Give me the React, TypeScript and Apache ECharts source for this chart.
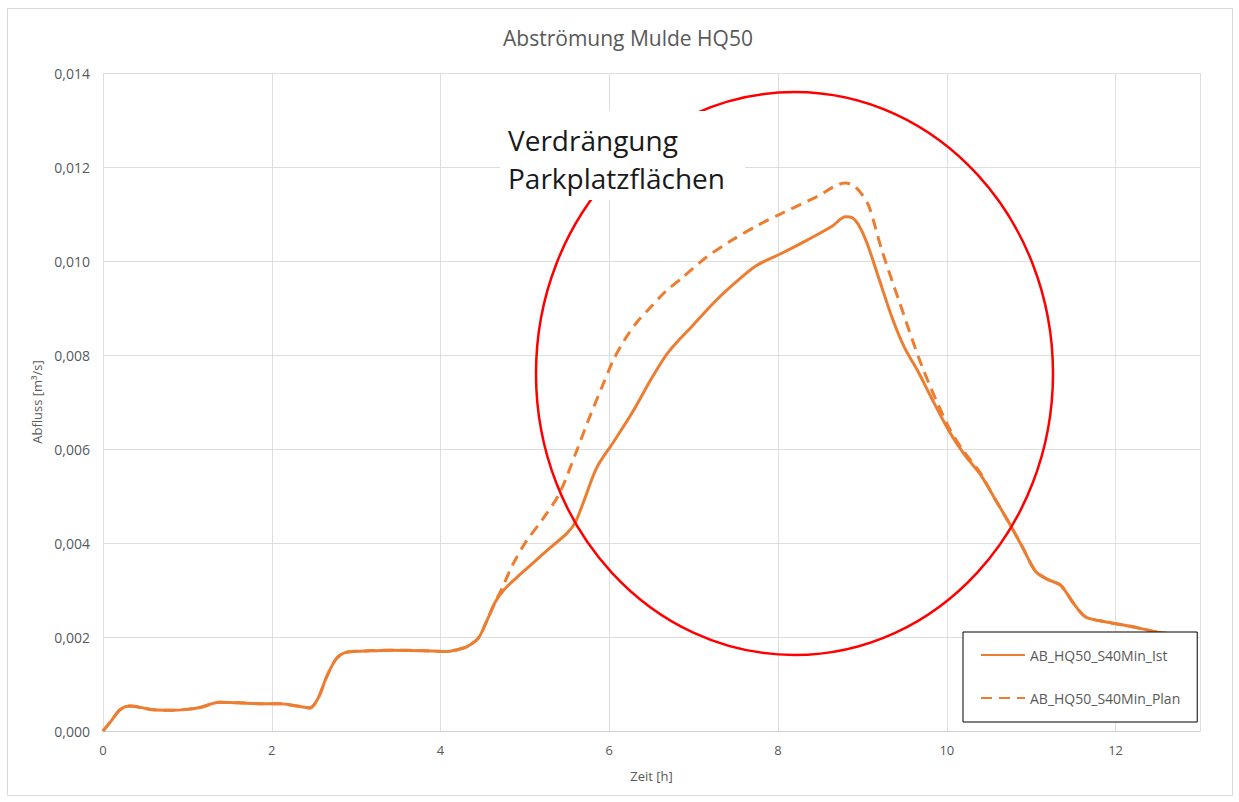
import React, { useEffect, useRef } from "react";
import * as echarts from "echarts";

// Abfluss der Mulde bei HQ50 – Zeit [h] / Abfluss [m³/s]
const istHours = [
  0.0, 0.1, 0.2, 0.32, 0.45, 0.6, 0.8, 1.0, 1.15, 1.38, 1.6, 1.9, 2.1, 2.3, 2.45,
  2.55, 2.65, 2.77, 2.9, 3.1, 3.4, 3.8, 4.05, 4.2, 4.32, 4.45, 4.55, 4.65, 4.75,
  4.9, 5.1, 5.3, 5.5, 5.6, 5.7, 5.85, 6.05, 6.27, 6.5, 6.7, 7.0, 7.27, 7.5, 7.74,
  8.05, 8.35, 8.64, 8.8, 8.88, 8.95, 9.05, 9.2, 9.35, 9.5, 9.65, 9.8, 10.02, 10.2,
  10.4, 10.55, 10.73, 10.9, 11.05, 11.2, 11.35, 11.5, 11.64, 11.8, 11.95, 12.2,
  12.45, 12.7, 12.95,
];
const istFlow = [
  0.0, 0.00022, 0.00045, 0.00053, 0.0005, 0.00045, 0.00044, 0.00046, 0.0005,
  0.00061, 0.0006, 0.00058, 0.00058, 0.00053, 0.00049, 0.0007, 0.00115, 0.00155,
  0.00168, 0.0017, 0.00172, 0.00171, 0.00169, 0.00173, 0.0018, 0.00198, 0.00235,
  0.00275, 0.003, 0.00326, 0.00358, 0.0039, 0.00421, 0.00445, 0.0049, 0.0056,
  0.00615, 0.00677, 0.0075, 0.00806, 0.00865, 0.00917, 0.00955, 0.0099, 0.01017,
  0.01045, 0.01074, 0.01094, 0.01092, 0.01078, 0.0104, 0.0096, 0.0088, 0.00815,
  0.00768, 0.00715, 0.0064, 0.0059, 0.00545, 0.005, 0.00445, 0.0039, 0.0034,
  0.00322, 0.0031, 0.00272, 0.00243, 0.00235, 0.0023, 0.00222, 0.00212, 0.00205,
  0.00198,
];

const planHours = [
  0.0, 0.1, 0.2, 0.32, 0.45, 0.6, 0.8, 1.0, 1.15, 1.38, 1.6, 1.9, 2.1, 2.3, 2.45,
  2.55, 2.65, 2.77, 2.9, 3.1, 3.4, 3.8, 4.05, 4.2, 4.32, 4.45, 4.55, 4.65, 4.72,
  4.85, 5.02, 5.2, 5.41, 5.6, 5.76, 5.92, 6.05, 6.18, 6.32, 6.47, 6.66, 6.86,
  7.15, 7.46, 7.75, 8.05, 8.45, 8.8, 8.9, 9.0, 9.08, 9.23, 9.43, 9.71, 10.02,
  10.2, 10.4, 10.55, 10.73, 10.9, 11.05, 11.2, 11.35, 11.5, 11.64, 11.8, 11.95,
  12.2, 12.45, 12.7, 12.95,
];
const planFlow = [
  0.0, 0.00022, 0.00045, 0.00053, 0.0005, 0.00045, 0.00044, 0.00046, 0.0005,
  0.00061, 0.0006, 0.00058, 0.00058, 0.00053, 0.00049, 0.0007, 0.00115, 0.00155,
  0.00168, 0.0017, 0.00172, 0.00171, 0.00169, 0.00173, 0.0018, 0.00198, 0.00235,
  0.00275, 0.003, 0.00352, 0.00405, 0.00448, 0.00506, 0.0059, 0.00665, 0.00735,
  0.0079, 0.00832, 0.00868, 0.00898, 0.00934, 0.00964, 0.01008, 0.01045, 0.01075,
  0.01102, 0.01136, 0.01166, 0.0116, 0.0114, 0.01115, 0.01023, 0.00917, 0.00774,
  0.00647, 0.00595, 0.00548, 0.005, 0.00445, 0.0039, 0.0034, 0.00322, 0.0031,
  0.00272, 0.00243, 0.00235, 0.0023, 0.00222, 0.00212, 0.00205, 0.00198,
];

const seriesNames = ["AB_HQ50_S40Min_Ist", "AB_HQ50_S40Min_Plan"];
const chartTitle = "Abströmung Mulde HQ50";
const noteLines = ["Verdrängung", "Parkplatzflächen"];

const FONT = "'Open Sans', 'Noto Sans', sans-serif";
const ORANGE = "#ED7D31";
const GREY_TEXT = "#595959";
const GRID_LINE = "#dedede";

export default function App() {
  const ref = useRef<HTMLDivElement>(null);

  useEffect(() => {
    document.body.style.margin = "0";
    if (!ref.current) return;
    const chart = echarts.init(ref.current, undefined, { renderer: "svg" });

    const ist = istHours.map((h, i) => [h, istFlow[i]]);
    const plan = planHours.map((h, i) => [h, planFlow[i]]);

    chart.setOption({
      animation: false,
      backgroundColor: "#ffffff",
      textStyle: { fontFamily: FONT },
      grid: { left: 103, right: 39, top: 73, bottom: 71, containLabel: false },
      xAxis: {
        type: "value",
        min: 0,
        max: 13,
        interval: 2,
        name: "Zeit [h]",
        nameLocation: "middle",
        nameGap: 38,
        nameTextStyle: { color: GREY_TEXT, fontSize: 13, fontFamily: FONT },
        axisLine: { show: true, lineStyle: { color: "#d0d0d0", width: 1 } },
        axisTick: { show: false },
        axisLabel: {
          color: GREY_TEXT,
          fontSize: 13,
          fontFamily: FONT,
          margin: 12,
          showMaxLabel: false,
          formatter: (v: number) => (v % 2 === 0 ? String(v) : ""),
        },
        splitLine: { show: true, lineStyle: { color: GRID_LINE, width: 1 } },
      },
      yAxis: {
        type: "value",
        min: 0,
        max: 0.014,
        interval: 0.002,
        name: "Abfluss [m³/s]",
        nameLocation: "middle",
        nameGap: 57,
        nameTextStyle: { color: GREY_TEXT, fontSize: 13, fontFamily: FONT },
        axisLine: { show: false },
        axisTick: { show: false },
        axisLabel: {
          color: GREY_TEXT,
          fontSize: 14,
          fontFamily: FONT,
          margin: 13,
          formatter: (v: number) => v.toFixed(3).replace(".", ","),
        },
        splitLine: { show: true, lineStyle: { color: GRID_LINE, width: 1 } },
      },
      legend: {
        left: 963,
        top: 632,
        orient: "vertical",
        z: 20,
        padding: [16, 17, 17, 17],
        itemGap: 29,
        itemWidth: 44,
        itemHeight: 14,
        itemStyle: { opacity: 0 },
        backgroundColor: "#ffffff",
        borderColor: "#000000",
        borderWidth: 1,
        textStyle: { color: GREY_TEXT, fontSize: 14, fontFamily: FONT, lineHeight: 14 },
        data: seriesNames,
      },
      series: [
        {
          name: seriesNames[0],
          type: "line",
          data: ist,
          smooth: 0.3,
          symbol: "none",
          lineStyle: { color: ORANGE, width: 3 },
          itemStyle: { color: ORANGE },
        },
        {
          name: seriesNames[1],
          type: "line",
          data: plan,
          smooth: 0.3,
          symbol: "none",
          lineStyle: { color: ORANGE, width: 3, type: [11, 7] },
          itemStyle: { color: ORANGE },
        },
      ],
      graphic: [
        {
          type: "rect",
          silent: true,
          z: 0,
          shape: { x: 7.5, y: 8.5, width: 1225, height: 787 },
          style: { fill: "none", stroke: "#d9d9d9", lineWidth: 1 },
        },
        {
          type: "text",
          silent: true,
          x: 628,
          y: 38,
          style: {
            text: chartTitle,
            fontSize: 21,
            fontFamily: FONT,
            fill: GREY_TEXT,
            align: "center",
            verticalAlign: "middle",
          },
        },
        {
          type: "ellipse",
          silent: true,
          z: 10,
          shape: { cx: 794.5, cy: 373.5, rx: 258.5, ry: 281.5 },
          style: { fill: "none", stroke: "#ff0000", lineWidth: 2.5 },
        },
        {
          type: "rect",
          silent: true,
          z: 11,
          shape: { x: 500, y: 111, width: 245, height: 89 },
          style: { fill: "#ffffff" },
        },
        {
          type: "text",
          silent: true,
          z: 12,
          x: 508,
          y: 121,
          style: {
            text: noteLines.join("\n"),
            fontSize: 28,
            lineHeight: 38,
            fontFamily: FONT,
            fill: "#1a1a1a",
            align: "left",
            verticalAlign: "top",
          },
        },
      ],
    });

    return () => chart.dispose();
  }, []);

  return <div ref={ref} style={{ width: 1239, height: 802 }} />;
}
